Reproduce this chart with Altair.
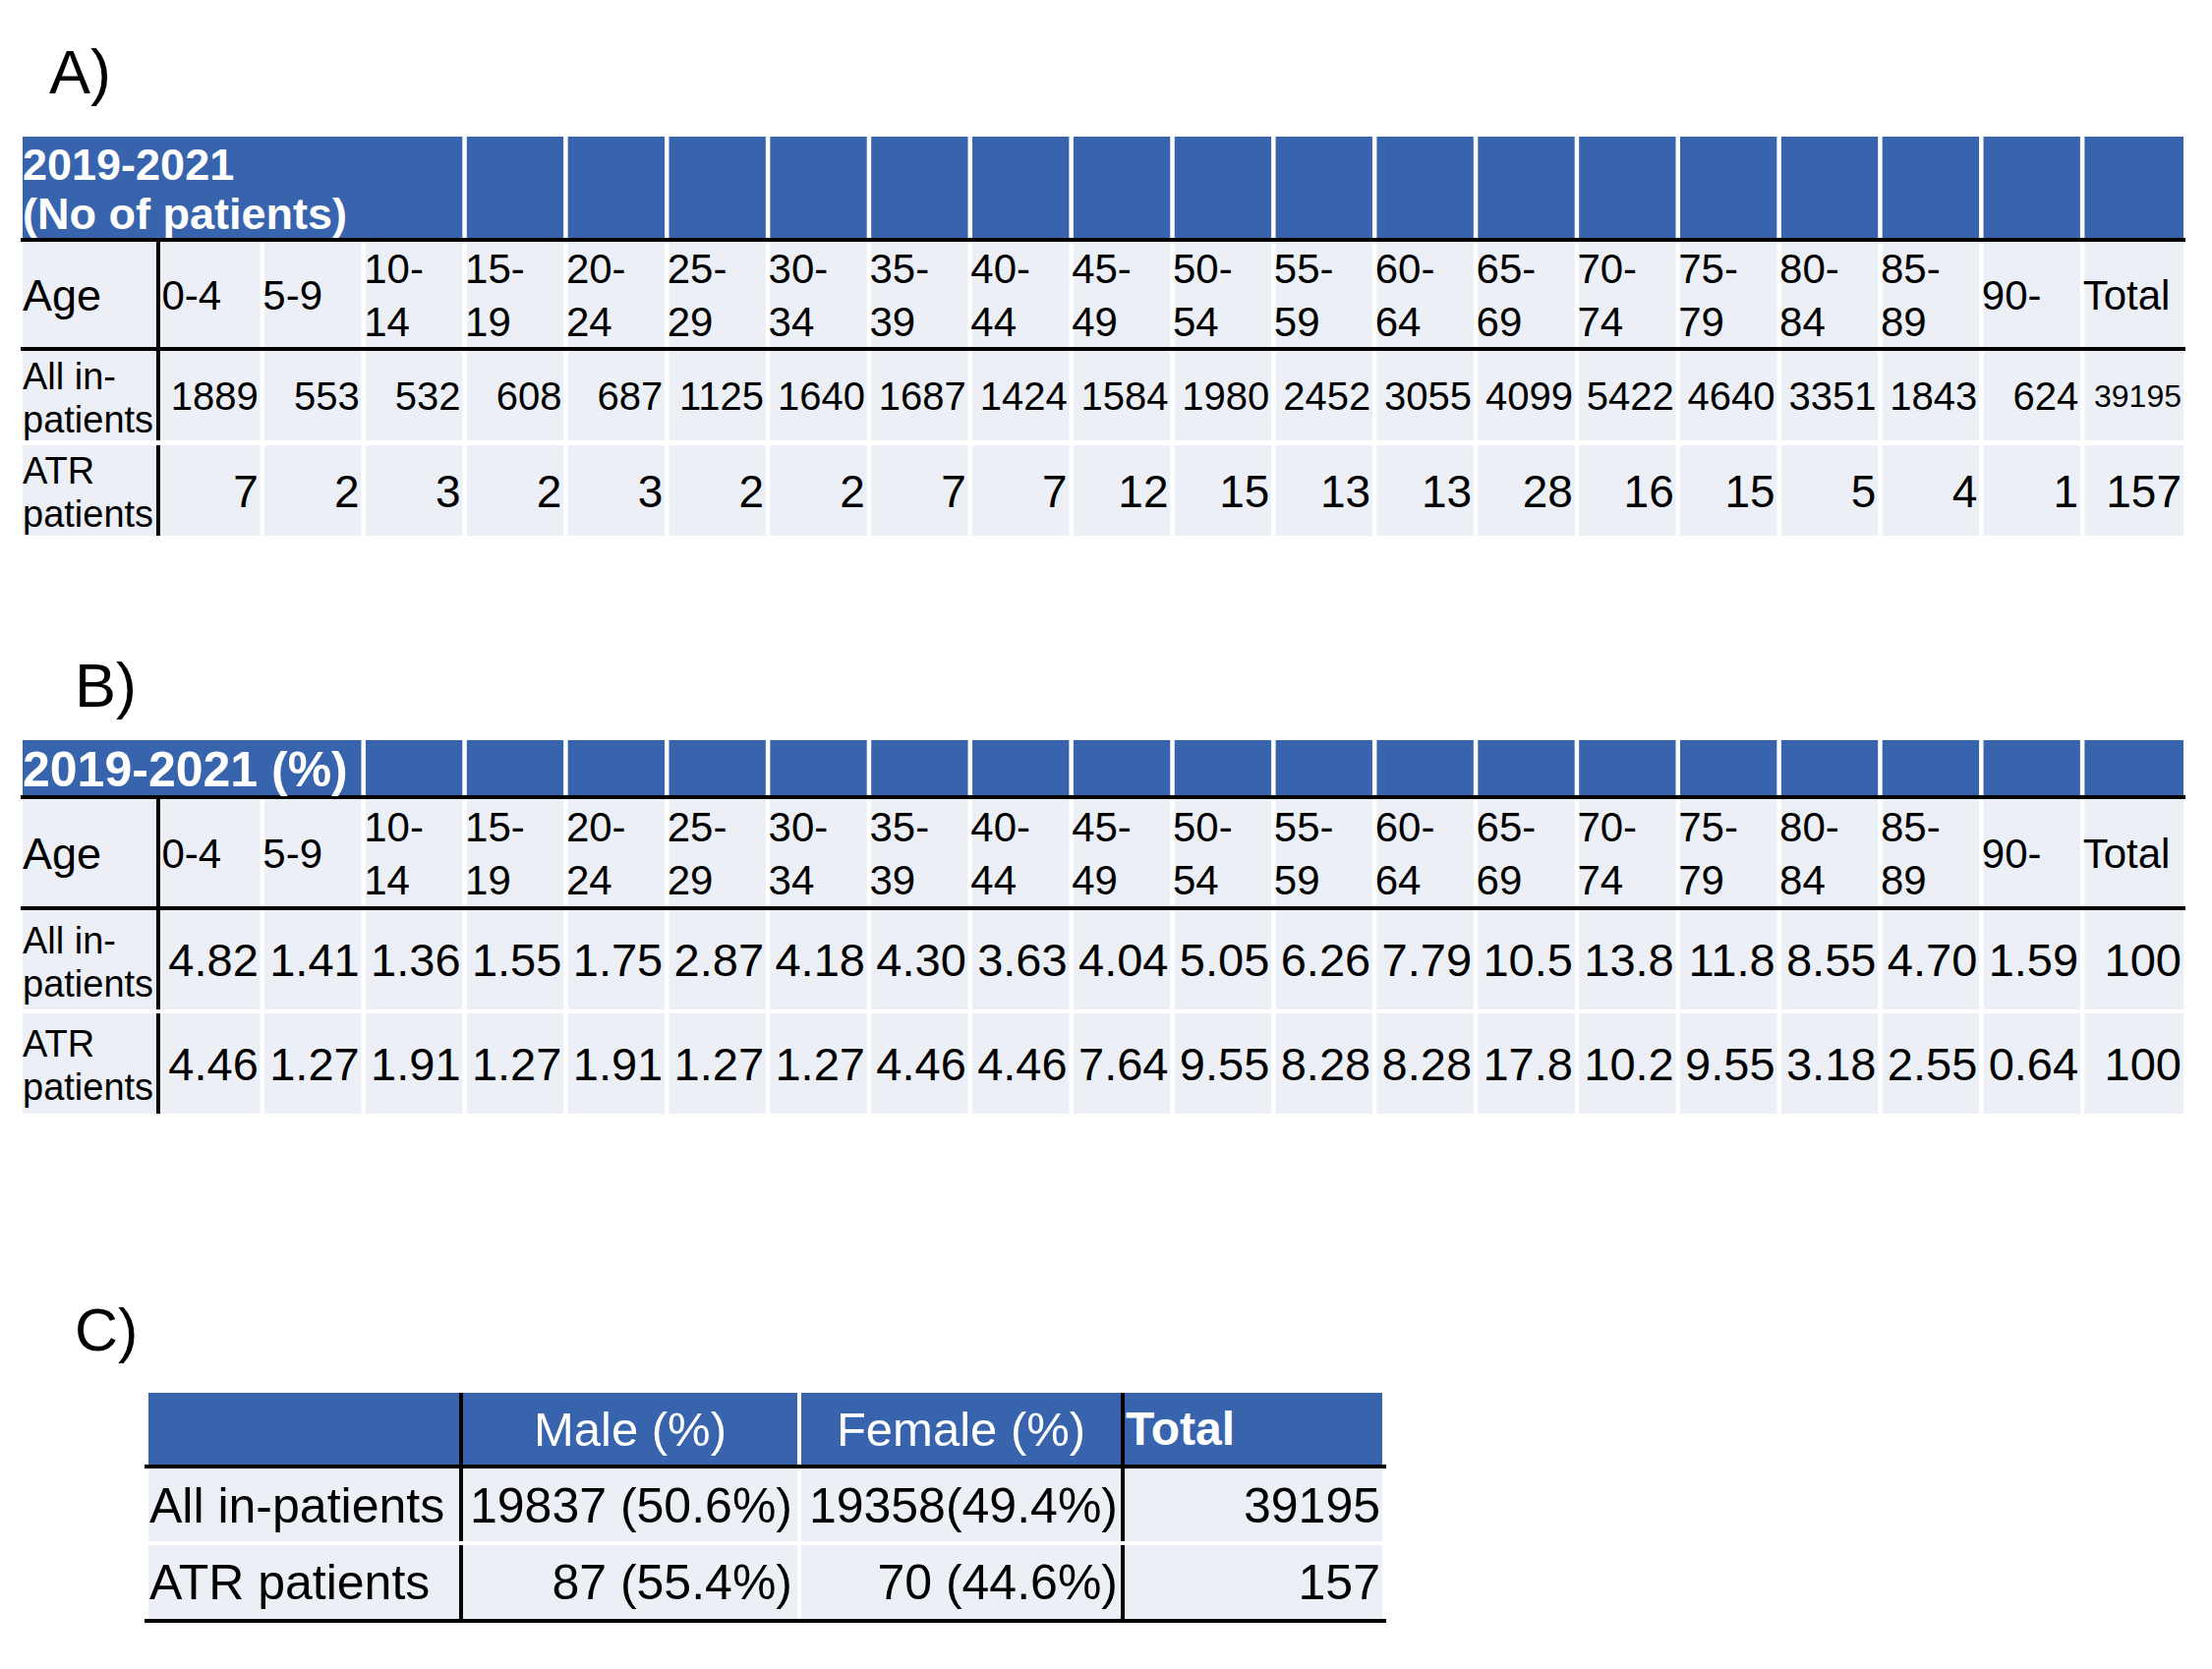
import altair as alt
import pandas as pd

# ---------------- data ----------------
age_groups = ["0-4", "5-9", "10-14", "15-19", "20-24", "25-29", "30-34", "35-39",
              "40-44", "45-49", "50-54", "55-59", "60-64", "65-69", "70-74",
              "75-79", "80-84", "85-89", "90-"]
all_counts = [1889, 553, 532, 608, 687, 1125, 1640, 1687, 1424, 1584, 1980, 2452,
              3055, 4099, 5422, 4640, 3351, 1843, 624]
atr_counts = [7, 2, 3, 2, 3, 2, 2, 7, 7, 12, 15, 13, 13, 28, 16, 15, 5, 4, 1]
all_total = 39195
atr_total = 157
all_pct = [4.82, 1.41, 1.36, 1.55, 1.75, 2.87, 4.18, 4.30, 3.63, 4.04, 5.05, 6.26,
           7.79, 10.5, 13.8, 11.8, 8.55, 4.70, 1.59]
atr_pct = [4.46, 1.27, 1.91, 1.27, 1.91, 1.27, 1.27, 4.46, 4.46, 7.64, 9.55, 8.28,
           8.28, 17.8, 10.2, 9.55, 3.18, 2.55, 0.64]
pct_total = 100
row_labels = ["All in-patients", "ATR patients"]
title_a = "2019-2021\n(No of patients)"
title_b = "2019-2021 (%)"
sex_headers = ["Male (%)", "Female (%)", "Total"]
male_n = [19837, 87]
male_pct = [50.6, 55.4]
female_n = [19358, 70]
female_pct = [49.4, 44.6]
female_sep = ["", " "]
sex_total = [39195, 157]

# ---------------- styling / layout ----------------
FONT = "Liberation Sans"
BLUE = "#3864AE"
LIGHT = "#EDEFF7"
BLACK = "#000000"
WHITE = "#FFFFFF"

text_specs = {
    "age_hdr": dict(align="left", fontWeight="normal", lineHeight=54),
    "row_lbl": dict(align="left", fontWeight="normal", lineHeight=44),
    "val_r": dict(align="right", fontWeight="normal", lineHeight=44),
    "title_a": dict(align="left", fontWeight="bold", lineHeight=50),
    "title_b": dict(align="left", fontWeight="bold", lineHeight=50),
    "title_c": dict(align="left", fontWeight="bold", lineHeight=50),
    "ctr": dict(align="center", fontWeight="normal", lineHeight=50),
}

rects = []
texts = {}  # key -> list


def rect(x, x2, y, y2, fill):
    rects.append(dict(x=x, x2=x2, y=y, y2=y2, fill=fill))


def text(group, x, cy, t, fs, color=BLACK):
    # cy is desired cap centre of the whole text block; vega 'middle' baseline
    # puts the first line's baseline at y+0.3*fs, later lines follow below.
    n = t.count("\n")
    lh = text_specs[group]["lineHeight"]
    texts.setdefault(group, []).append(
        dict(x=x, y=cy + 0.058 * fs - n * lh / 2, t=t, fs=fs, color=color))


def fmt_pct(v):
    if v >= 100:
        return f"{v:.0f}"
    if v >= 10:
        return f"{v:.1f}"
    return f"{v:.2f}"


def wrap_age(a):
    p = a.split("-")
    if len(p) == 2 and len(p[0]) >= 2 and p[1]:
        return p[0] + "-\n" + p[1]
    return a


def wrap_row(lbl):
    return lbl.replace("in-", "in-\n").replace("ATR ", "ATR\n")


L, R = 23, 2221
b = [164 + 102.85 * k for k in range(21)]
b[20] = R
G = 2.25


def table_ab(rows, span, title, title_fs, title_group, vals_all, vals_atr,
             fs_all, fs_atr, tot_all, tot_atr, fs_tot_all):
    h0, h1 = rows["head"]
    rect(L, b[span] - G, h0, h1, BLUE)
    for k in range(span, 20):
        rect(b[k] + G, b[k + 1] - G if k < 19 else R, h0, h1, BLUE)
    for key in ("line1", "line2"):
        y0, y1 = rows[key]
        rect(L - 2, R + 2, y0, y1, BLACK)
    for key in ("age", "all", "atr"):
        y0, y1 = rows[key]
        rect(L, 159, y0, y1, LIGHT)
        rect(159, 163, y0, y1, BLACK)
        for k in range(20):
            x0 = 163 if k == 0 else b[k] + G
            x1 = R if k == 19 else b[k + 1] - G
            rect(x0, x1, y0, y1, LIGHT)
    # title
    text(title_group, L, (h0 + h1) / 2 + 1, title, title_fs, WHITE)
    # age header
    ay = (rows["age"][0] + rows["age"][1]) / 2
    text("age_hdr", L, ay, "Age", 45)
    for k, a in enumerate(age_groups + ["Total"]):
        text("age_hdr", b[k] + 0.5, ay, wrap_age(a), 42)
    # row labels
    for key, lbl in zip(("all", "atr"), row_labels):
        y0, y1 = rows[key]
        text("row_lbl", L, (y0 + y1) / 2 + 2, wrap_row(lbl), 38)
    # values
    yA = sum(rows["all"]) / 2
    yT = sum(rows["atr"]) / 2
    for k in range(19):
        text("val_r", b[k + 1] - 4, yA, vals_all[k], fs_all)
        text("val_r", b[k + 1] - 4, yT, vals_atr[k], fs_atr)
    text("val_r", R - 2, yA, tot_all, fs_tot_all)
    text("val_r", R - 2, yT, tot_atr, fs_atr)


# Table A
table_ab(dict(head=(139, 242), line1=(242, 246), age=(246, 353), line2=(353, 357),
              all=(357, 448), atr=(453, 545)),
         3, title_a, 45, "title_a",
         [str(v) for v in all_counts], [str(v) for v in atr_counts],
         40, 46, str(all_total), str(atr_total), 32)
# Table B
table_ab(dict(head=(753, 809), line1=(809, 813), age=(813, 922), line2=(922, 926),
              all=(926, 1027), atr=(1031, 1133)),
         2, title_b, 50, "title_b",
         [fmt_pct(v) for v in all_pct], [fmt_pct(v) for v in atr_pct],
         47, 47, fmt_pct(pct_total), fmt_pct(pct_total), 47)

# panel letters
text("row_lbl", 50, 72, "A)", 63)
text("row_lbl", 76, 696, "B)", 63)
text("row_lbl", 76, 1352, "C)", 61)

# Table C
cx = [151, 467, 471, 811, 815, 1140, 1144, 1406]
rect(cx[0], cx[3], 1417, 1490, BLUE)
rect(cx[4], cx[7], 1417, 1490, BLUE)
rowsC = [(1494, 1568), (1572, 1647)]
for (y0, y1) in rowsC:
    rect(cx[0], cx[1], y0, y1, LIGHT)
    rect(cx[2], cx[3], y0, y1, LIGHT)
    rect(cx[4], cx[5], y0, y1, LIGHT)
    rect(cx[6], cx[7], y0, y1, LIGHT)
for xv in ((cx[1], cx[2]), (cx[5], cx[6])):
    rect(xv[0], xv[1], 1417, 1568, BLACK)
    rect(xv[0], xv[1], 1572, 1651, BLACK)
rect(147, 1410, 1490, 1494, BLACK)
rect(147, 1410, 1647, 1651, BLACK)

hy = (1417 + 1490) / 2
text("ctr", (cx[2] + cx[3]) / 2, hy, sex_headers[0], 49, WHITE)
text("ctr", (cx[4] + cx[5]) / 2, hy, sex_headers[1], 49, WHITE)
text("title_c", cx[6] + 1, hy, sex_headers[2], 48, WHITE)
for i, (y0, y1) in enumerate(rowsC):
    cy = (y0 + y1) / 2
    text("row_lbl", cx[0] + 1, cy, row_labels[i], 50)
    text("val_r", cx[3] - 5, cy, f"{male_n[i]} ({male_pct[i]}%)", 50)
    text("val_r", cx[5] - 3, cy, f"{female_n[i]}{female_sep[i]}({female_pct[i]}%)", 50)
    text("val_r", cx[7] - 2, cy, f"{sex_total[i]}", 50)

# ---------------- chart ----------------
W, H = 2230, 1675
xs = alt.Scale(domain=[8, 8 + W], nice=False, zero=False)
ys = alt.Scale(domain=[8, 8 + H], nice=False, zero=False, reverse=True)

rect_layer = alt.Chart(pd.DataFrame(rects)).mark_rect().encode(
    x=alt.X("x:Q", scale=xs, axis=None),
    x2="x2:Q",
    y=alt.Y("y:Q", scale=ys, axis=None),
    y2="y2:Q",
    color=alt.Color("fill:N", scale=None),
)

layers = [rect_layer]
for g, rows_ in texts.items():
    spec = text_specs[g]
    layers.append(
        alt.Chart(pd.DataFrame(rows_)).mark_text(
            baseline="middle", font=FONT, lineBreak="\n", **spec
        ).encode(
            x=alt.X("x:Q", scale=xs, axis=None),
            y=alt.Y("y:Q", scale=ys, axis=None),
            text="t:N",
            size=alt.Size("fs:Q", scale=None),
            color=alt.Color("color:N", scale=None),
        )
    )

chart = alt.layer(*layers).properties(
    width=W, height=H, padding=0, background="white",
    autosize=alt.AutoSizeParams(type="none"),
).configure_view(stroke=None)

chart.save("out.html", embed_options={"renderer": "svg", "actions": False})
